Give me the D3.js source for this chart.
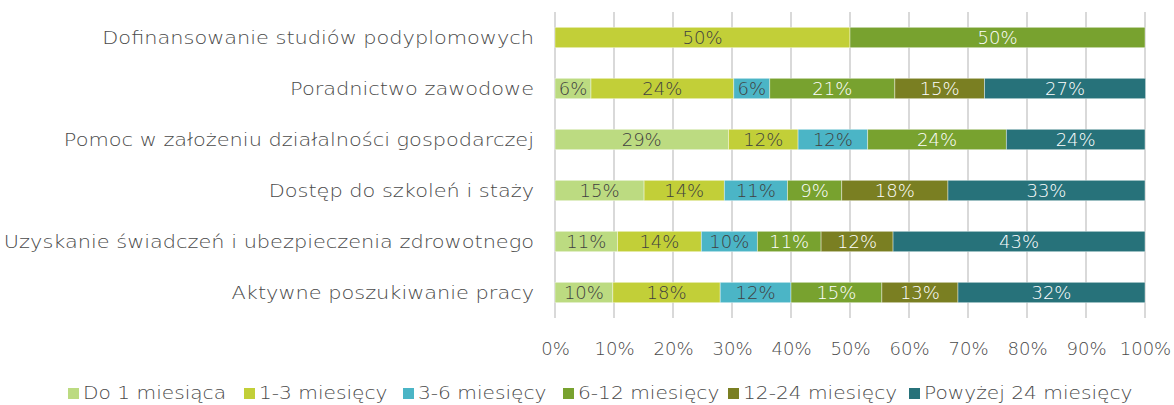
<!DOCTYPE html>
<html><head><meta charset="utf-8">
<script src="https://cdn.jsdelivr.net/npm/d3@7"></script>
<style>
body{margin:0;background:#fff;}
svg{display:block;font-family:"DejaVu Sans",sans-serif;font-weight:200;}
</style></head>
<body><svg id="c" width="1174" height="405"></svg>
<script>
const categories = [
  "Dofinansowanie studiów podyplomowych",
  "Poradnictwo zawodowe",
  "Pomoc w założeniu działalności gospodarczej",
  "Dostęp do szkoleń i staży",
  "Uzyskanie świadczeń i ubezpieczenia zdrowotnego",
  "Aktywne poszukiwanie pracy"
];
const seriesNames = ["Do 1 miesiąca","1-3 miesięcy","3-6 miesięcy","6-12 miesięcy","12-24 miesięcy","Powyżej 24 miesięcy"];
const do1 =   [0,   6.1, 29.4, 15.1, 10.6,  9.8];
const m1_3 =  [50, 24.2, 11.8, 13.6, 14.2, 18.2];
const m3_6 =  [0,   6.1, 11.8, 10.7,  9.5, 12.0];
const m6_12 = [50, 21.2, 23.5,  9.2, 10.8, 15.4];
const m12_24 =[0,  15.2,  0,   18.0, 12.2, 12.9];
const m24 =   [0,  27.3, 23.5, 33.4, 42.7, 31.7];
const tickValues = [0,10,20,30,40,50,60,70,80,90,100];
const colors = ["#bcdb81","#c2cf38","#4bb5c6","#78a22f","#7a7f22","#27727a"];
const labelColors = ["#404040","#404040","#404040","#ffffff","#ffffff","#ffffff"];

const series = [do1,m1_3,m3_6,m6_12,m12_24,m24];
const rows = categories.map((c,i)=>{ const o={cat:c}; seriesNames.forEach((s,j)=>o[s]=series[j][i]); return o; });
const stacked = d3.stack().keys(seriesNames)(rows);

const svg = d3.select("#c");
const x = d3.scaleLinear().domain([0,100]).range([555,1145]);
const y = d3.scaleBand().domain(categories).range([12,318]).paddingInner(0.6).paddingOuter(0.3);
const stretch = 1.16, legStretch = 1.12;

// gridlines
svg.append("g").selectAll("line").data(tickValues).join("line")
  .attr("x1",d=>x(d)).attr("x2",d=>x(d)).attr("y1",12).attr("y2",318)
  .attr("stroke","#d9d9d9").attr("stroke-width",2);

// bars
const g = svg.append("g");
stacked.forEach((layer,j)=>{
  g.append("g").selectAll("rect").data(layer.filter(d=>d[1]-d[0]>0)).join("rect")
    .attr("x",d=>x(d[0])).attr("width",d=>x(d[1])-x(d[0]))
    .attr("y",d=>y(d.data.cat)).attr("height",y.bandwidth())
    .attr("fill",colors[j]).attr("stroke","#ffffff").attr("stroke-opacity",0.5).attr("stroke-width",0.8);
  g.append("g").selectAll("text").data(layer.filter(d=>d[1]-d[0]>0)).join("text")
    .attr("x",d=>(x(d[0])+x(d[1]))/2).attr("y",d=>y(d.data.cat)+y.bandwidth()/2)
    .attr("dy","0.36em").attr("text-anchor","middle")
    .attr("font-size",18).attr("fill",labelColors[j])
    .text(d=>Math.round(d[1]-d[0])+"%");
});

// category labels
svg.append("g").selectAll("text").data(categories).join("text")
  .attr("transform",d=>`translate(534,${y(d)+y.bandwidth()/2}) scale(${stretch},1)`)
  .attr("dy","0.36em")
  .attr("text-anchor","end").attr("font-size",18).attr("fill","#4a4a4a").text(d=>d);

// x axis labels
const xAxis = d3.axisBottom(x).tickValues(tickValues).tickFormat(d=>d+"%").tickSize(0).tickPadding(0);
const ax = svg.append("g").attr("transform","translate(0,349)").call(xAxis);
ax.select(".domain").remove();
ax.selectAll("text").attr("font-size",18).attr("fill","#4a4a4a").attr("font-family","DejaVu Sans").attr("font-weight",200).attr("dy","0.36em").attr("y",0);

// legend
const legX = [68,244,403,563,728,909];
const leg = svg.append("g").selectAll("g").data(seriesNames).join("g")
  .attr("transform",(d,i)=>`translate(${legX[i]},393)`);
leg.append("rect").attr("x",0).attr("y",-5).attr("width",11).attr("height",11).attr("fill",(d,i)=>colors[i]);
leg.append("text").attr("transform",`translate(15,0) scale(${legStretch},1)`).attr("dy","0.36em")
  .attr("font-size",18).attr("fill","#4a4a4a").text(d=>d);
</script></body></html>
